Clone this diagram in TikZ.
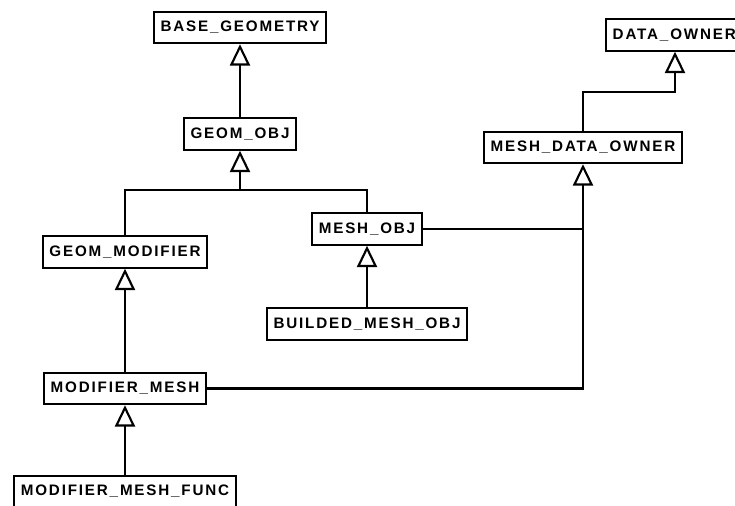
\documentclass[tikz,border=0pt]{standalone}
\usepackage{fontspec}
\newfontfamily\umlfont{Liberation Sans}[LetterSpace=12]
\usetikzlibrary{arrows.meta}
\begin{document}
\begin{tikzpicture}[x=0.75pt,y=0.75pt,yscale=-1,xscale=1,
  cls/.style={draw,line width=1.6pt,fill=white,font=\umlfont\bfseries\fontsize{11.4pt}{13pt}\selectfont,inner xsep=5pt,inner ysep=0pt,minimum height=23.5pt},
  isa/.style={line width=1.6pt,-{Triangle[open,width=15pt,length=16pt,line width=1.6pt]}},
  link/.style={line width=1.6pt}]
\useasboundingbox (0,0) rectangle (735,506);
\clip (0,0) rectangle (735,506);
% classes
\node [cls] (basegeo) at (240,27.5) {BASE\_GEOMETRY};
\node [cls] (geomobj) at (240,134) {GEOM\_OBJ};
\node [cls] (geommod) at (125,252) {GEOM\_MODIFIER};
\node [cls] (meshobj) at (367,229) {MESH\_OBJ};
\node [cls] (builded) at (367,324) {BUILDED\_MESH\_OBJ};
\node [cls] (modmesh) at (125,388.5) {MODIFIER\_MESH};
\node [cls] (modfunc) at (125,491.5) {MODIFIER\_MESH\_FUNC};
\node [cls] (meshdata) at (583,147.5) {MESH\_DATA\_OWNER};
\node [cls,anchor=west] (dataowner) at (605,35) {DATA\_OWNER};
\coordinate (jgeom) at (240,190);
\coordinate (jdo) at (675,92);
% inheritance
\draw [isa] (geomobj) -- (basegeo);
\draw [link] (geommod.north) |- (jgeom);
\draw [link] (meshobj.north) |- (jgeom);
\draw [isa] (jgeom) -- (geomobj.south);
\draw [isa] (builded) -- (meshobj);
\draw [isa] (modmesh) -- (geommod);
\draw [isa] (modfunc) -- (modmesh);
\draw [isa] (modmesh.east) -| (meshdata.south);
\draw [link] (meshobj.east) -- (meshobj.east -| meshdata.south);
\draw [isa] (meshdata.north) |- (jdo) -- (jdo |- dataowner.south);
\end{tikzpicture}
\end{document}
